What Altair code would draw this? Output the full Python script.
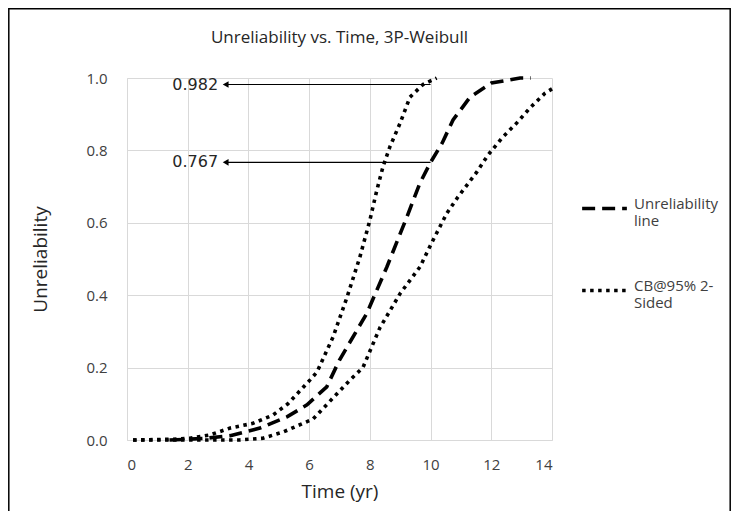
import altair as alt
import pandas as pd

# Unreliability line (dashed)
unrel_t = [1.4, 2.5, 3.4, 4.38, 5.27, 5.93, 6.58, 7.0, 7.9, 8.56, 9.22, 9.65, 10.0, 10.38, 10.74, 11.3, 12.0, 12.95, 13.3]
unrel_u = [0.0, 0.004, 0.012, 0.033, 0.064, 0.097, 0.147, 0.221, 0.35, 0.478, 0.616, 0.71, 0.767, 0.82, 0.884, 0.947, 0.986, 1.0, 1.0]

# Upper confidence bound (left dotted)
upper_t = [0.2, 1.5, 2.07, 2.73, 3.4, 4.15, 4.81, 5.3, 6.03, 6.26, 6.79, 7.25, 7.67, 8.0, 8.23, 8.43, 8.66, 9.0, 9.32, 9.75, 10.2]
upper_u = [0.0, 0.002, 0.005, 0.014, 0.033, 0.046, 0.069, 0.10, 0.166, 0.188, 0.285, 0.395, 0.505, 0.607, 0.69, 0.754, 0.81, 0.876, 0.947, 0.982, 1.0]

# Lower confidence bound (right dotted)
lower_t = [0.2, 3.7, 4.48, 5.14, 5.8, 6.13, 7.35, 7.77, 8.33, 9.0, 9.65, 10.08, 10.54, 10.9, 11.52, 11.89, 12.35, 12.84, 13.27, 13.77, 14.0]
lower_u = [0.0, 0.0, 0.005, 0.022, 0.046, 0.058, 0.166, 0.2, 0.31, 0.405, 0.478, 0.552, 0.627, 0.671, 0.74, 0.787, 0.834, 0.876, 0.917, 0.958, 0.97]

# Annotations
ann_values = [0.982, 0.767]
ann_from_t = 10.0
ann_to_t = 3.25
ann_label_t = 3.0

legend_names = ["Unreliability line", "CB@95% 2-Sided"]
chart_title = "Unreliability vs. Time, 3P-Weibull"

rows = []
for t, u in zip(unrel_t, unrel_u):
    rows.append({"t": t, "u": u, "series": "unrel", "kind": legend_names[0]})
for t, u in zip(upper_t, upper_u):
    rows.append({"t": t, "u": u, "series": "upper", "kind": legend_names[1]})
for t, u in zip(lower_t, lower_u):
    rows.append({"t": t, "u": u, "series": "lower", "kind": legend_names[1]})
df = pd.DataFrame(rows)

ann = pd.DataFrame({
    "u": ann_values,
    "t1": [ann_from_t] * len(ann_values),
    "t0": [ann_to_t] * len(ann_values),
    "tl": [ann_label_t] * len(ann_values),
    "label": [f"{v:.3f}" for v in ann_values],
})

FONT = "Open Sans"
W, H = 425, 362
PL, PT, PR, PB = 119, 70, 179, 71

xs = alt.Scale(domain=[0, 14], nice=False)
ys = alt.Scale(domain=[0, 1], nice=False)

lines = alt.Chart(df).mark_line(strokeWidth=3.6, color="black", strokeCap="butt").encode(
    x=alt.X("t:Q", scale=xs,
            axis=alt.Axis(title="Time (yr)", values=list(range(0, 15, 2)), format="d",
                          grid=True, gridColor="#d9d9d9", domainColor="#d9d9d9",
                          ticks=False, labelPadding=17, labelFontSize=15,
                          titleFontSize=19, titleFontWeight="normal", titlePadding=10,
                          labelColor="#404040", titleColor="#262626",
                          labelFont=FONT, titleFont=FONT)),
    y=alt.Y("u:Q", scale=ys,
            axis=alt.Axis(title="Unreliability", values=[0, 0.2, 0.4, 0.6, 0.8, 1.0], format=".1f",
                          grid=True, gridColor="#d9d9d9", domainColor="#d9d9d9",
                          ticks=False, labelPadding=20, labelFontSize=15,
                          titleFontSize=19, titleFontWeight="normal",
                          titleX=-87, titleY=H / 2, titleAngle=-90, titleAlign="center",
                          titleBaseline="middle",
                          labelColor="#404040", titleColor="#262626",
                          labelFont=FONT, titleFont=FONT)),
    strokeDash=alt.StrokeDash("kind:N",
                              scale=alt.Scale(domain=legend_names, range=[[13, 7], [3.5, 4.5]]),
                              legend=alt.Legend(title=None, orient="none", legendX=W + 28, legendY=106,
                                                symbolType="stroke", symbolSize=2000,
                                                symbolStrokeWidth=3.6, symbolStrokeColor="black",
                                                labelFontSize=15, labelFont=FONT, labelColor="#404040",
                                                labelExpr="datum.label == 'Unreliability line' ? ['Unreliability', 'line'] : ['CB@95% 2-', 'Sided']",
                                                rowPadding=37, labelOffset=5, labelBaseline="alphabetic")),
    detail="series:N",
    order="t:Q",
)

rules = alt.Chart(ann).mark_rule(color="black", strokeWidth=1.2).encode(
    x="t0:Q", x2="t1:Q", y="u:Q"
)
heads = alt.Chart(ann).mark_point(shape="triangle-left", filled=True, color="black", size=45, opacity=1).encode(
    x="t0:Q", y="u:Q"
)
labels = alt.Chart(ann).mark_text(align="right", baseline="middle", fontSize=16, font="DejaVu Sans", color="#262626").encode(
    x="tl:Q", y="u:Q", text="label:N"
)

title = alt.Chart(pd.DataFrame({"txt": [chart_title]})).mark_text(
    fontSize=17, font=FONT, color="#262626", align="center", baseline="middle"
).encode(x=alt.value(W / 2), y=alt.value(-40), text="txt:N")

border = alt.Chart(pd.DataFrame({"a": [0]})).mark_rect(fill=None, stroke="black", strokeWidth=1.5).encode(
    x=alt.value(-PL + 0.8), x2=alt.value(W + PR - 0.8), y=alt.value(-PT + 0.8), y2=alt.value(H + PB + 40)
)

chart = alt.layer(border, lines, rules, heads, labels, title).properties(
    width=W, height=H,
    padding={"left": PL, "top": PT, "right": PR, "bottom": PB},
    autosize=alt.AutoSizeParams(type="none"),
).configure_view(stroke=None)

chart.save("out.html", embed_options={"renderer": "svg", "actions": False})
